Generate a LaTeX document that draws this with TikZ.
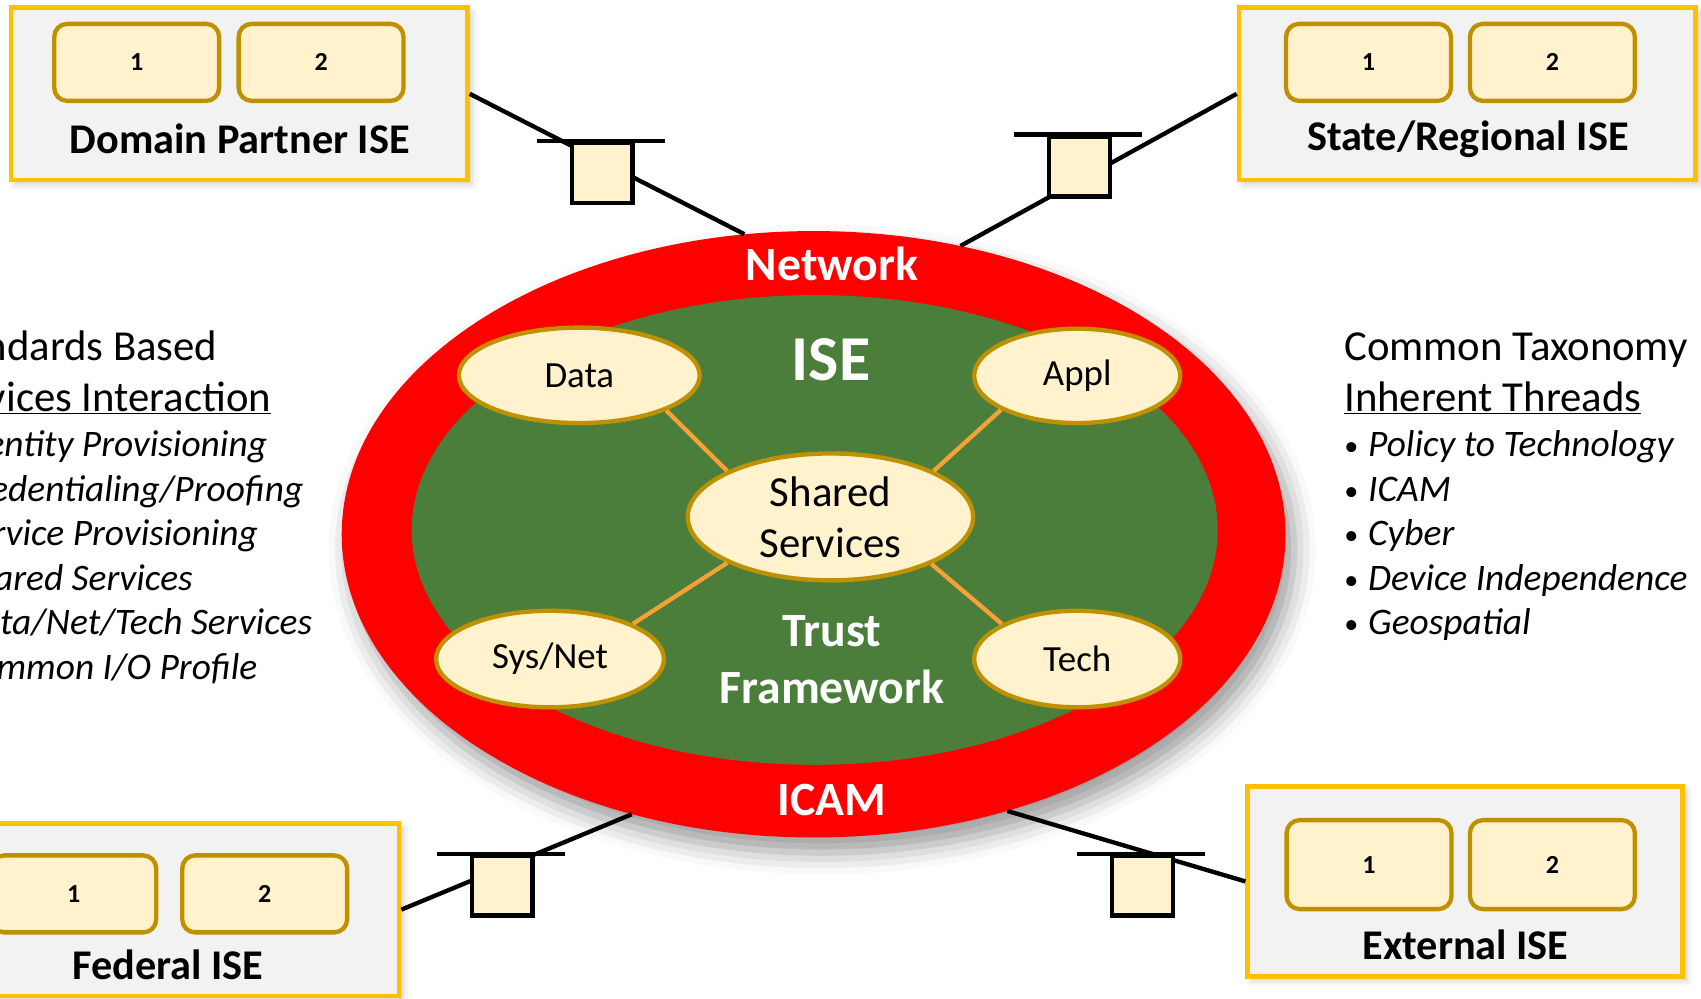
\documentclass[tikz,border=0pt]{standalone}
\usepackage{fontspec}
\setmainfont{Carlito}
\usetikzlibrary{shapes.geometric, shadows.blur}

\definecolor{isegold}{HTML}{FFC000}
\definecolor{isegray}{HTML}{F2F2F2}
\definecolor{slotfill}{HTML}{FFF2CC}
\definecolor{slotdraw}{HTML}{BF9000}
\definecolor{trustgreen}{HTML}{4A7E3A}
\definecolor{ringred}{HTML}{FF0000}
\definecolor{linkorange}{HTML}{F7A035}

\newcommand{\dotitem}{\makebox[22pt][l]{\raisebox{1pt}{\fontsize{26}{26}\selectfont\textbullet}}}

\begin{document}
\begin{tikzpicture}[x=1pt,y=-1pt]
  \tikzstyle{isebox}=[draw=isegold,fill=isegray,line width=4pt,inner sep=0pt,blur shadow={shadow xshift=4pt,shadow yshift=-4pt,shadow blur radius=6pt,shadow opacity=20}]
  \tikzstyle{slot}=[draw=slotdraw,fill=slotfill,line width=4pt,rounded corners=12pt,minimum width=152pt,minimum height=71pt,font=\bfseries\fontsize{24}{26}\selectfont]
  \tikzstyle{isename}=[font=\bfseries\fontsize{39}{44}\selectfont]
  \tikzstyle{plug}=[draw=black,fill=slotfill,line width=4pt,minimum width=56pt,minimum height=55pt,inner sep=0pt]
  \tikzstyle{link}=[draw=black,line width=4pt]
  \tikzstyle{svc}=[ellipse,draw=slotdraw,fill=slotfill,line width=4pt,inner sep=0pt,font=\fontsize{34}{40}\selectfont]
  \tikzstyle{white text}=[text=white,font=\bfseries\fontsize{44}{53}\selectfont,align=center]
  \tikzstyle{head text}=[anchor=base west,inner sep=0pt,font=\fontsize{39.4}{47}\selectfont]
  \tikzstyle{item text}=[anchor=base west,inner sep=0pt,font=\fontsize{34.5}{41}\selectfont]

  \path[use as bounding box] (0,0) rectangle (1568,920);
  \clip (0,0) rectangle (1568,920);

  \node[ellipse, fill=ringred, minimum width=870pt, minimum height=559pt, inner sep=0pt,
        blur shadow={shadow xshift=8pt, shadow yshift=-14pt, shadow blur radius=20pt, shadow opacity=40}] (ring) at (750,492.5) {};
  \node[ellipse, fill=trustgreen, minimum width=743pt, minimum height=433pt, inner sep=0pt] (core) at (751,488.5) {};

  \node[isebox, minimum width=421pt, minimum height=159pt] (dp) at (220.5,86.5) {};
  \node[isebox, minimum width=421pt, minimum height=159pt] (sr) at (1352.5,86.5) {};
  \node[isebox, minimum width=421pt, minimum height=159pt] (fed) at (157.5,838.5) {};
  \node[isebox, minimum width=401pt, minimum height=175pt] (ext) at (1350.5,812.5) {};

  \node[slot] (dp1) at (126,57.5) {1};
  \node[slot] (dp2) at (296,57.5) {2};
  \node[slot] (sr1) at (1261.5,57.5) {1};
  \node[slot] (sr2) at (1431,57.5) {2};
  \node[slot] (fed1) at (68,824) {1};
  \node[slot] (fed2) at (244,824) {2};
  \node[slot, minimum height=82pt] (ext1) at (1262,797) {1};
  \node[slot, minimum height=82pt] (ext2) at (1431,797) {2};

  \node[isename] (dpname) at (221,128) {Domain Partner ISE};
  \node[isename] (srname) at (1353,128) {State/Regional ISE};
  \node[isename] (fedname) at (155,889) {Federal ISE};
  \node[isename] (extname) at (1351,871) {External ISE};

  \path[link] (dp.east) -- (ring.103);
  \path[link] (sr.west) -- (ring.63);
  \path[link] (fed.east) -- (ring.237);
  \path[link] (ext.west) -- (ring.305);

  \node[plug] (dpplug) at (555,159.5) {};
  \node[plug] (srplug) at (995,153.5) {};
  \node[plug] (fedplug) at (463,816.5) {};
  \node[plug] (extplug) at (1053,816.5) {};
  \path[link] ([xshift=-30pt]dpplug.north west) -- ([xshift=28pt]dpplug.north east);
  \path[link] ([xshift=-30pt]srplug.north west) -- ([xshift=28pt]srplug.north east);
  \path[link] ([xshift=-30pt]fedplug.north west) -- ([xshift=28pt]fedplug.north east);
  \path[link] ([xshift=-30pt]extplug.north west) -- ([xshift=28pt]extplug.north east);

  \node[svc, minimum width=222pt, minimum height=88pt] (data) at (534,346) {Data};
  \node[svc, minimum width=190pt, minimum height=87pt] (appl) at (993,346.5) {Appl};
  \node[svc, minimum width=263pt, minimum height=117pt, align=center, font=\fontsize{39.5}{47}\selectfont] (shared) at (765.5,476.5) {Shared\\Services};
  \node[svc, minimum width=210pt, minimum height=89pt] (sysnet) at (507,607.5) {Sys/Net};
  \node[svc, minimum width=190pt, minimum height=89pt] (tech) at (993,607.5) {Tech};

  \path[draw=linkorange, line width=4pt] (data.-22) -- (shared.156)
        (appl.204) -- (shared.24)
        (sysnet.23) -- (shared.204)
        (tech.155) -- (shared.335);

  \node[white text] (network) at (767,243) {Network};
  \node[white text, font=\bfseries\fontsize{59}{62}\selectfont] (ise) at (766,332) {ISE};
  \node[white text] (trust) at (767,608) {Trust\\Framework};
  \node[white text] (icam) at (767,737) {ICAM};

  \node[head text] (lt1) at (-64,332) {Standards Based};
  \node[head text] (lt2) at (-64,379) {\underline{Services Interaction}};
  \node[item text] (lt3) at (-61,421) {\dotitem\textit{Identity Provisioning}};
  \node[item text] (lt4) at (-61,462) {\dotitem\textit{Credentialing/Proofing}};
  \node[item text] (lt5) at (-61,503) {\dotitem\textit{Service Provisioning}};
  \node[item text] (lt6) at (-61,544) {\dotitem\textit{Shared Services}};
  \node[item text] (lt7) at (-61,585) {\dotitem\textit{Data/Net/Tech Services}};
  \node[item text] (lt8) at (-61,626) {\dotitem\textit{Common I/O Profile}};

  \node[head text] (rt1) at (1239,332) {Common Taxonomy};
  \node[head text] (rt2) at (1239,379) {\underline{Inherent Threads}};
  \node[item text] (rt3) at (1239,421) {\dotitem\textit{Policy to Technology}};
  \node[item text] (rt4) at (1239,462) {\dotitem\textit{ICAM}};
  \node[item text] (rt5) at (1239,503) {\dotitem\textit{Cyber}};
  \node[item text] (rt6) at (1239,544) {\dotitem\textit{Device Independence}};
  \node[item text] (rt7) at (1239,585) {\dotitem\textit{Geospatial}};
\end{tikzpicture}
\end{document}
